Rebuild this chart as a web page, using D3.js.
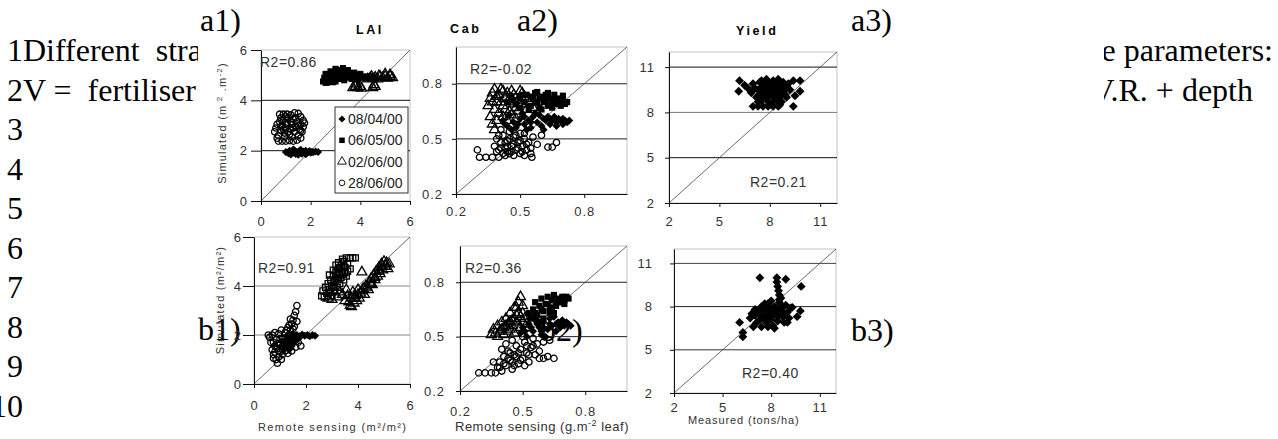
<!DOCTYPE html>
<html><head><meta charset="utf-8">
<script src="https://cdn.jsdelivr.net/npm/d3@7"></script>
<style>body{margin:0;background:#fff}svg{display:block}</style>
</head><body><svg id="c" width="1278" height="439"></svg>
<script>
// ---------- text ----------
const lineNumbers = ["1","2","3","4","5","6","7","8","9","10"];
const lineTexts = ["Different  stra","V =  fertiliser","","","","","","","",""];
const rightTexts = ["e parameters:","V.R. + depth"];
const panelLabels = ["a1)","a2)","a3)","b1)","b2)","b3)"];
const seriesNames = ["08/04/00","06/05/00","02/06/00","28/06/00"];
const panelTitles = ["LAI","Cab","Yield"];
const r2Labels = ["R2=0.86","R2=-0.02","R2=0.21","R2=0.91","R2=0.36","R2=0.40"];

// ---------- ticks ----------
const laiTicks = [0,2,4,6];
const cabTicks = [0.2,0.5,0.8];
const yieldTicks = [2,5,8,11];
const laiGrid = [2,4];
const cabGrid = [0.5,0.8];
const yieldGrid = [5,8,11];

// ---------- a1 LAI ----------
const a1_0804 = [[1.0,1.95],[1.1,1.9],[1.15,2.0],[1.2,1.88],[1.25,1.97],[1.3,1.92],[1.35,2.02],[1.4,1.87],[1.45,1.95],[1.5,1.9],[1.55,2.0],[1.6,1.93],[1.65,1.88],[1.7,1.97],[1.75,1.92],[1.8,2.0],[1.85,1.9],[1.9,1.95],[1.95,1.99],[2.0,1.92],[2.05,1.96],[2.1,1.94],[2.2,1.97],[2.3,1.95],[1.2,1.85],[1.5,1.84],[1.8,1.86],[1.3,2.05],[1.6,2.04]];
const a1_0605 = [[2.5,4.75],[2.55,4.9],[2.6,5.05],[2.65,4.7],[2.7,4.85],[2.75,5.0],[2.8,5.15],[2.85,4.8],[2.9,4.95],[2.95,5.1],[3.0,4.75],[3.05,4.9],[3.1,5.05],[3.15,5.2],[3.2,4.85],[3.25,5.0],[3.3,5.15],[3.35,4.8],[3.4,4.95],[3.45,5.1],[3.5,5.2],[3.55,4.9],[3.6,5.05],[3.65,4.85],[3.7,5.0],[3.75,5.1],[3.8,4.9],[3.85,5.0],[3.9,4.85],[3.95,4.95],[4.0,5.05],[4.05,4.9],[4.1,4.95],[4.2,4.9],[4.3,4.95],[4.4,4.92],[4.5,4.95],[4.6,4.9],[2.6,4.7],[3.0,5.25],[3.3,5.28],[2.9,4.72]];
const a1_0206 = [[3.7,4.5],[3.8,4.55],[3.9,4.5],[4.0,4.55],[4.05,4.48],[4.5,4.5],[4.6,4.55],[4.55,4.62],[3.85,4.65],[4.3,4.85],[4.4,4.9],[4.5,4.88],[4.6,4.92],[4.7,4.85],[4.8,4.95],[4.9,4.9],[5.0,4.95],[5.1,4.88],[5.2,4.95],[5.3,4.9],[5.0,5.05],[5.2,5.02],[4.75,4.98],[4.45,4.95]];
const a1_2806 = [[0.75,3.45],[0.9,3.45],[1.05,3.45],[1.2,3.42],[1.35,3.5],[1.5,3.48],[1.6,3.35],[1.7,3.2],[0.55,2.75],[0.6,2.9],[0.65,3.05],[0.7,2.6],[0.8,2.8],[0.85,3.0],[0.9,3.2],[0.95,2.7],[1.0,2.9],[1.05,3.1],[1.1,3.3],[1.15,2.65],[1.2,2.85],[1.25,3.05],[1.3,3.25],[1.35,2.75],[1.4,2.95],[1.45,3.15],[1.5,2.6],[1.55,2.85],[1.6,3.05],[1.65,2.75],[1.7,2.95],[1.75,3.1],[0.7,2.38],[0.85,2.38],[1.0,2.38],[1.15,2.4],[1.3,2.38],[1.45,2.42],[0.65,2.5],[1.6,2.5],[0.95,2.55],[1.25,2.55],[0.75,3.15],[0.8,2.95],[0.9,2.85],[1.0,3.05],[1.1,2.75],[1.2,3.15],[1.3,2.9],[1.4,3.3],[1.5,3.0],[1.6,2.8],[1.0,3.35],[0.8,3.3]];

// ---------- a2 Cab ----------
const a2_0804 = [[0.42,0.6],[0.44,0.57],[0.45,0.63],[0.47,0.59],[0.48,0.56],[0.5,0.61],[0.51,0.64],[0.52,0.58],[0.54,0.6],[0.55,0.56],[0.56,0.62],[0.58,0.59],[0.59,0.63],[0.6,0.57],[0.62,0.6],[0.63,0.62],[0.64,0.58],[0.65,0.6],[0.66,0.62],[0.67,0.59],[0.68,0.61],[0.69,0.6],[0.7,0.58],[0.71,0.6],[0.72,0.59],[0.73,0.6],[0.46,0.55],[0.53,0.55],[0.61,0.55],[0.57,0.64],[0.43,0.58],[0.49,0.58],[0.55,0.59],[0.61,0.61],[0.67,0.57],[0.7,0.61],[0.64,0.61],[0.52,0.62]];
const a2_0605 = [[0.44,0.7],[0.46,0.73],[0.48,0.69],[0.5,0.72],[0.52,0.7],[0.53,0.74],[0.55,0.68],[0.56,0.72],[0.57,0.75],[0.58,0.7],[0.59,0.67],[0.6,0.73],[0.61,0.7],[0.62,0.74],[0.63,0.68],[0.64,0.72],[0.65,0.7],[0.66,0.74],[0.67,0.69],[0.68,0.72],[0.69,0.7],[0.7,0.71],[0.71,0.69],[0.72,0.7],[0.54,0.66],[0.6,0.66],[0.65,0.67],[0.58,0.755],[0.63,0.75],[0.5,0.67],[0.47,0.71],[0.51,0.74],[0.55,0.73],[0.59,0.72],[0.62,0.71],[0.66,0.71],[0.69,0.68],[0.7,0.735]];
const a2_0206 = [[0.35,0.68],[0.36,0.72],[0.37,0.75],[0.38,0.66],[0.39,0.7],[0.4,0.74],[0.41,0.77],[0.42,0.68],[0.43,0.72],[0.44,0.75],[0.45,0.65],[0.46,0.7],[0.47,0.74],[0.48,0.67],[0.49,0.71],[0.5,0.76],[0.51,0.69],[0.52,0.73],[0.53,0.66],[0.55,0.7],[0.56,0.67],[0.36,0.62],[0.37,0.58],[0.38,0.55],[0.39,0.6],[0.4,0.64],[0.42,0.62],[0.44,0.6],[0.46,0.63],[0.48,0.61],[0.37,0.7],[0.39,0.73],[0.41,0.7],[0.43,0.66],[0.45,0.72],[0.47,0.69],[0.49,0.65],[0.51,0.75],[0.38,0.77],[0.42,0.76],[0.46,0.76],[0.54,0.72]];
const a2_2806 = [[0.3,0.44],[0.31,0.4],[0.34,0.4],[0.37,0.4],[0.4,0.4],[0.43,0.41],[0.555,0.4],[0.63,0.455],[0.65,0.455],[0.67,0.48],[0.6,0.52],[0.38,0.46],[0.39,0.5],[0.4,0.44],[0.41,0.48],[0.42,0.52],[0.43,0.45],[0.44,0.49],[0.45,0.42],[0.46,0.46],[0.47,0.51],[0.48,0.44],[0.49,0.48],[0.5,0.42],[0.51,0.46],[0.52,0.5],[0.53,0.44],[0.54,0.48],[0.55,0.45],[0.56,0.51],[0.45,0.54],[0.41,0.55],[0.5,0.53],[0.58,0.47],[0.47,0.41],[0.52,0.41],[0.44,0.43],[0.42,0.42],[0.39,0.43],[0.41,0.45],[0.43,0.48],[0.45,0.5],[0.47,0.47],[0.49,0.45],[0.51,0.43],[0.53,0.47],[0.55,0.42],[0.4,0.52],[0.44,0.46],[0.48,0.52],[0.52,0.53],[0.46,0.43],[0.5,0.49]];

// ---------- a3 Yield ----------
const a3_yield = [[6.2,10.1],[6.15,9.4],[6.5,9.8],[6.7,9.6],[9.4,10.1],[9.8,10.1],[9.8,9.4],[9.5,9.1],[9.4,8.4],[7.0,8.4],[7.3,8.4],[7.6,8.4],[7.9,8.4],[8.2,8.4],[8.5,8.4],[7.2,9.0],[7.3,9.5],[7.4,10.0],[7.5,8.8],[7.6,9.3],[7.7,9.8],[7.8,10.2],[7.9,8.7],[8.0,9.1],[8.1,9.6],[8.2,10.1],[8.3,8.9],[8.4,9.4],[8.5,9.9],[8.6,9.0],[8.7,9.5],[8.8,10.0],[8.9,9.2],[9.0,9.7],[7.4,9.2],[7.6,8.9],[7.8,9.5],[8.0,9.9],[8.2,9.3],[8.4,8.8],[8.6,9.7],[8.8,9.4],[7.5,10.1],[8.1,8.6],[8.7,8.7],[9.1,9.9],[9.2,9.5],[7.1,9.6],[7.0,9.9],[6.9,9.3],[7.9,9.3],[8.3,9.7],[8.5,10.2],[7.7,9.0],[8.9,9.8],[9.0,9.0],[7.3,8.7],[8.0,8.5],[8.6,8.5],[7.5,9.6],[7.9,9.7],[8.3,9.2],[8.5,9.5],[8.1,9.9],[7.7,9.4],[8.7,9.2],[8.9,9.6]];

// ---------- b1 LAI ----------
const b1_0804 = [[1.65,2.0],[1.75,1.95],[1.85,2.02],[1.95,1.97],[2.05,2.0],[2.15,1.95],[2.25,2.0],[2.35,1.97],[1.1,1.6],[1.2,1.75],[1.25,1.5],[1.3,1.85],[1.35,1.65],[1.4,1.95],[1.45,1.55],[1.5,1.8],[1.55,1.7],[1.6,1.9],[1.15,1.45],[1.35,1.4],[1.5,2.05],[1.7,1.85],[1.25,1.95],[1.05,1.75]];
const b1_0605 = [[2.6,3.6],[2.7,3.55],[2.65,3.8],[2.75,3.95],[2.8,3.7],[2.85,4.1],[2.9,3.85],[2.95,4.25],[3.0,4.0],[3.05,4.4],[3.1,4.15],[3.15,4.55],[3.2,4.3],[3.25,4.7],[3.3,4.45],[3.35,4.85],[3.4,4.6],[3.45,5.0],[3.5,4.75],[3.55,5.15],[3.6,4.9],[3.7,5.15],[3.8,5.15],[3.9,5.15],[3.55,4.4],[3.45,4.25],[3.3,4.1],[3.2,3.95],[3.1,3.8],[3.0,3.6],[3.25,4.95],[3.05,4.65],[2.9,4.45],[3.6,4.6],[3.7,4.7],[2.85,3.6],[3.15,4.85],[3.4,5.1],[2.95,3.75],[3.05,3.95],[3.15,4.25],[3.25,4.3],[3.35,4.35],[3.4,4.5],[3.5,4.55],[3.2,4.6],[3.3,4.75],[3.45,4.8]];
const b1_0206 = [[2.85,3.5],[3.0,3.45],[3.2,3.55],[3.4,3.65],[3.5,3.4],[3.6,3.6],[3.7,3.2],[3.75,3.5],[3.8,3.75],[3.85,3.3],[3.9,3.6],[4.0,3.85],[4.05,3.5],[4.1,3.7],[4.2,3.9],[4.25,3.65],[4.3,4.0],[4.4,3.85],[4.45,4.15],[4.5,4.3],[4.55,4.05],[4.6,4.45],[4.65,4.25],[4.7,4.6],[4.75,4.4],[4.8,4.75],[4.85,4.5],[4.9,4.9],[4.95,4.65],[5.0,5.0],[5.05,4.8],[5.1,4.95],[5.15,4.7],[5.2,4.9],[4.15,4.57],[3.3,3.75],[3.55,3.85],[3.95,3.4],[3.75,3.15],[3.65,3.35],[3.85,3.5],[4.0,3.65],[4.15,3.8],[4.35,3.95],[4.5,4.1],[4.65,4.35],[4.8,4.6],[4.95,4.8]];
const b1_2806 = [[0.9,0.85],[0.85,1.0],[0.75,1.2],[0.95,1.1],[1.05,1.0],[0.7,1.4],[0.8,1.55],[0.65,1.7],[0.6,1.9],[0.55,2.0],[0.7,2.0],[0.85,1.8],[0.9,1.45],[1.0,1.3],[1.1,1.2],[1.0,1.6],[1.1,1.85],[0.95,2.05],[1.2,1.35],[1.3,1.25],[1.2,2.1],[1.3,2.3],[1.4,2.2],[1.45,2.45],[1.5,2.6],[1.55,2.8],[1.6,2.95],[1.65,3.2],[1.55,2.35],[1.65,2.55],[1.4,2.65],[1.45,1.35],[1.6,1.5],[1.7,1.7],[1.8,1.55],[0.8,2.1],[0.75,1.05],[1.35,2.0],[1.25,1.6],[1.05,2.2],[0.8,1.3],[0.9,1.65],[1.0,1.85],[1.15,1.55],[1.25,2.2],[1.35,2.4],[1.5,2.25],[0.75,1.7],[0.95,1.35],[1.1,1.4]];

// ---------- b2 Cab ----------
const b2_0804 = [[0.49,0.52],[0.5,0.55],[0.52,0.5],[0.53,0.57],[0.55,0.53],[0.56,0.59],[0.58,0.55],[0.59,0.51],[0.6,0.58],[0.62,0.54],[0.63,0.6],[0.64,0.56],[0.66,0.53],[0.67,0.58],[0.68,0.55],[0.69,0.59],[0.7,0.56],[0.71,0.58],[0.72,0.57],[0.73,0.56],[0.61,0.5],[0.57,0.61],[0.65,0.61],[0.54,0.55],[0.57,0.57],[0.6,0.55],[0.63,0.57],[0.66,0.57],[0.69,0.57],[0.51,0.53],[0.59,0.53]];
const b2_0605 = [[0.54,0.6],[0.55,0.65],[0.56,0.69],[0.57,0.62],[0.58,0.67],[0.59,0.71],[0.6,0.64],[0.61,0.68],[0.62,0.72],[0.63,0.66],[0.64,0.7],[0.65,0.73],[0.66,0.67],[0.67,0.71],[0.68,0.69],[0.69,0.72],[0.7,0.7],[0.71,0.72],[0.72,0.71],[0.6,0.6],[0.65,0.63],[0.53,0.63],[0.58,0.58],[0.56,0.63],[0.59,0.65],[0.62,0.68],[0.64,0.66],[0.67,0.69],[0.7,0.68],[0.63,0.63]];
const b2_0206 = [[0.35,0.51],[0.36,0.54],[0.37,0.52],[0.38,0.56],[0.39,0.53],[0.4,0.58],[0.41,0.55],[0.42,0.6],[0.43,0.57],[0.44,0.63],[0.45,0.59],[0.46,0.66],[0.47,0.62],[0.48,0.69],[0.49,0.72],[0.5,0.67],[0.5,0.63],[0.51,0.6],[0.52,0.57],[0.53,0.55],[0.47,0.58],[0.44,0.54],[0.41,0.51],[0.38,0.5],[0.46,0.52],[0.49,0.55],[0.4,0.54],[0.42,0.56],[0.43,0.53],[0.45,0.56],[0.46,0.6],[0.48,0.63],[0.47,0.66],[0.49,0.61],[0.5,0.58],[0.44,0.58]];
const b2_2806 = [[0.29,0.3],[0.32,0.3],[0.35,0.3],[0.37,0.3],[0.38,0.33],[0.39,0.36],[0.4,0.31],[0.41,0.39],[0.42,0.34],[0.43,0.42],[0.44,0.37],[0.45,0.32],[0.46,0.4],[0.47,0.45],[0.48,0.35],[0.49,0.43],[0.5,0.38],[0.51,0.47],[0.52,0.41],[0.53,0.36],[0.54,0.44],[0.55,0.49],[0.56,0.4],[0.57,0.46],[0.58,0.42],[0.6,0.38],[0.62,0.39],[0.65,0.38],[0.63,0.48],[0.6,0.47],[0.45,0.48],[0.42,0.46],[0.5,0.5],[0.4,0.43],[0.36,0.36],[0.41,0.35],[0.43,0.38],[0.45,0.36],[0.47,0.39],[0.49,0.37],[0.44,0.41],[0.48,0.41],[0.52,0.45],[0.55,0.45],[0.58,0.38],[0.39,0.33],[0.46,0.34],[0.51,0.34],[0.53,0.4]];

// ---------- b3 Yield ----------
const b3_yield = [[7.3,10.0],[8.35,10.0],[8.35,9.7],[8.9,9.9],[9.85,9.4],[6.05,6.9],[6.25,6.2],[6.25,5.9],[9.3,7.95],[9.8,7.7],[9.6,7.3],[8.4,9.4],[8.45,9.1],[8.5,8.8],[8.5,8.5],[6.7,7.2],[6.9,6.6],[7.0,7.4],[7.1,6.9],[7.2,7.7],[7.3,7.1],[7.4,6.6],[7.5,7.9],[7.6,7.4],[7.7,6.9],[7.8,8.2],[7.9,7.6],[8.0,7.1],[8.1,6.7],[8.2,8.0],[8.3,7.5],[8.4,7.0],[8.5,8.3],[8.6,7.8],[8.7,7.3],[8.8,6.9],[8.9,8.1],[9.0,7.6],[9.1,7.2],[9.2,7.9],[7.4,8.0],[7.6,8.2],[8.0,8.4],[8.2,6.5],[7.8,6.6],[8.6,8.6],[8.8,7.5],[7.0,7.8],[6.8,7.5],[9.0,6.9],[7.3,7.5],[7.5,7.2],[7.7,7.7],[7.9,7.9],[8.1,7.4],[8.3,7.9],[8.5,7.6],[8.7,8.0],[8.1,7.8],[7.9,7.2],[8.4,7.3]];

// ---------- drawing ----------
const SERIF = "'Liberation Serif','Times New Roman',serif";
const SANS = "'Liberation Sans',Arial,sans-serif";
const svg = d3.select('#c');
svg.append('rect').attr('width',1278).attr('height',439).attr('fill','#fff');

lineNumbers.forEach((n,i) => {
  const yb = 61 + i*39.5;
  svg.append('text').attr('x',23).attr('y',yb).attr('text-anchor','end')
    .attr('font-family',SERIF).attr('font-size',32).text(n);
  if (lineTexts[i]) svg.append('text').attr('x',23).attr('y',yb).style('white-space','pre')
    .attr('font-family',SERIF).attr('font-size',32).text(lineTexts[i]);
});
const rightEnds = [1273,1253];
rightTexts.forEach((t,i) => {
  svg.append('text').attr('x',rightEnds[i]).attr('y',61 + i*39.5).attr('text-anchor','end')
    .style('white-space','pre').attr('font-family',SERIF).attr('font-size',32).text(t);
});
svg.append('rect').attr('x',198).attr('y',0).attr('width',906).attr('height',439).attr('fill','#fff');

const labelPos = [[200,31],[517,31],[851,31],[198,340],[540,341],[851,341]];
panelLabels.forEach((t,i) => svg.append('text').attr('x',labelPos[i][0]).attr('y',labelPos[i][1])
  .attr('font-family',SERIF).attr('font-size',32).text(t));

const titlePos = [[356,34],[450,33],[736,35]];
panelTitles.forEach((t,i) => svg.append('text').attr('x',titlePos[i][0]).attr('y',titlePos[i][1])
  .attr('font-family',SANS).attr('font-size',12.5).attr('font-weight','bold').attr('letter-spacing',2.6).text(t));

const symDiamond = d3.symbolDiamond2 || d3.symbolDiamond;
const styles = {
  d:{type:symDiamond,size:40,fill:'#000',stroke:'none',sw:0},
  s:{type:d3.symbolSquare,size:38,fill:'#000',stroke:'none',sw:0},
  sh:{type:d3.symbolSquare,size:36,fill:'none',stroke:'#000',sw:1.3},
  t:{type:d3.symbolTriangle,size:42,fill:'none',stroke:'#000',sw:1.3},
  c:{type:d3.symbolCircle,size:32,fill:'none',stroke:'#000',sw:1.3},
  dy:{type:symDiamond,size:50,fill:'#000',stroke:'none',sw:0}
};

function panel(cfg){
  const x = d3.scaleLinear().domain(cfg.xd).range([cfg.l,cfg.r]);
  const y = d3.scaleLinear().domain(cfg.yd).range([cfg.b,cfg.t]);
  const g = svg.append('g');
  g.append('rect').attr('x',cfg.l).attr('y',cfg.t).attr('width',cfg.r-cfg.l).attr('height',cfg.b-cfg.t)
    .attr('fill','none').attr('stroke','#c4c4c4');
  cfg.grid.forEach((v,i) => g.append('line').attr('x1',cfg.l).attr('x2',cfg.r).attr('y1',y(v)).attr('y2',y(v))
    .attr('stroke',cfg.gridColor[i]).attr('stroke-width',1));
  g.append('line').attr('x1',x(cfg.xd[0])).attr('y1',y(cfg.yd[0])).attr('x2',x(cfg.xd[1])).attr('y2',y(cfg.yd[1]))
    .attr('stroke','#444').attr('stroke-width',0.8);
  const ya = g.append('g').attr('transform',`translate(${cfg.l},0)`)
    .call(d3.axisLeft(y).tickValues(cfg.yt).tickSize(cfg.ytick).tickSizeOuter(0).tickPadding(cfg.ypad).tickFormat(cfg.fmt));
  const xa = g.append('g').attr('transform',`translate(0,${cfg.b})`)
    .call(d3.axisBottom(x).tickValues(cfg.xt).tickSize(4).tickSizeOuter(0).tickFormat(cfg.fmt));
  [ya,xa].forEach(a => {
    a.select('.domain').attr('stroke','#111');
    a.selectAll('.tick line').attr('stroke','#111');
    a.selectAll('text').attr('font-family',SANS).attr('font-size',13).attr('fill','#333').attr('letter-spacing',1);
  });
  xa.selectAll('text').attr('y',cfg.xlab - cfg.b).attr('dy',0);
  cfg.series.forEach(sr => {
    const st = styles[sr.style];
    const sym = d3.symbol().type(st.type).size(st.size);
    g.append('g').selectAll('path').data(sr.data).join('path')
      .attr('d',sym).attr('transform',d => `translate(${x(d[0])},${y(d[1])})`)
      .attr('fill',st.fill).attr('stroke',st.stroke).attr('stroke-width',st.sw);
  });
  g.append('text').attr('x',cfg.r2[0]).attr('y',cfg.r2[1]).attr('font-family',SANS).attr('font-size',14)
    .attr('letter-spacing',0.5).attr('fill','#333').text(cfg.r2t);
  return {g,x,y};
}
const f0 = d3.format('d'), f1 = d3.format('.1f');

panel({l:261,t:50,r:410,b:201,xd:[0,6],yd:[0,6],xt:laiTicks,yt:laiTicks,grid:laiGrid,gridColor:['#111','#111'],
  ytick:10,ypad:3,xlab:226,fmt:f0,r2:[260,67],r2t:r2Labels[0],
  series:[{data:a1_2806,style:'c'},{data:a1_0804,style:'d'},{data:a1_0605,style:'s'},{data:a1_0206,style:'t'}]});
panel({l:456,t:47,r:627,b:194,xd:[0.2,1.0],yd:[0.2,1.0],xt:cabTicks,yt:cabTicks,grid:cabGrid,gridColor:['#222','#222'],
  ytick:4,ypad:9,xlab:216,fmt:f1,r2:[470,74],r2t:r2Labels[1],
  series:[{data:a2_2806,style:'c'},{data:a2_0804,style:'d'},{data:a2_0605,style:'s'},{data:a2_0206,style:'t'}]});
panel({l:669,t:52,r:837,b:203,xd:[2,12],yd:[2,12],xt:yieldTicks,yt:yieldTicks,grid:yieldGrid,gridColor:['#111','#777','#111'],
  ytick:4,ypad:10,xlab:226,fmt:f0,r2:[750,187],r2t:r2Labels[2],
  series:[{data:a3_yield,style:'dy'}]});
panel({l:254,t:237,r:410,b:384,xd:[0,6],yd:[0,6],xt:laiTicks,yt:laiTicks,grid:laiGrid,gridColor:['#888','#888'],
  ytick:11,ypad:1,xlab:410,fmt:f0,r2:[258,273],r2t:r2Labels[3],
  series:[{data:b1_2806,style:'c'},{data:b1_0804,style:'d'},{data:b1_0605,style:'sh'},{data:b1_0206,style:'t'}]});
panel({l:460,t:246,r:627,b:391,xd:[0.2,1.0],yd:[0.2,1.0],xt:cabTicks,yt:cabTicks,grid:cabGrid,gridColor:['#222','#222'],
  ytick:4,ypad:11,xlab:416,fmt:f1,r2:[465,273],r2t:r2Labels[4],
  series:[{data:b2_2806,style:'c'},{data:b2_0804,style:'d'},{data:b2_0605,style:'s'},{data:b2_0206,style:'t'}]});
panel({l:674,t:249,r:836,b:393,xd:[2,12],yd:[2,12],xt:yieldTicks,yt:yieldTicks,grid:yieldGrid,gridColor:['#333','#222','#444'],
  ytick:4,ypad:17,xlab:412,fmt:f0,r2:[742,378],r2t:r2Labels[5],
  series:[{data:b3_yield,style:'dy'}]});

// legend (a1)
const lg = svg.append('g');
lg.append('rect').attr('x',335).attr('y',107).attr('width',73).attr('height',86).attr('fill','#fff').attr('stroke','#333');
const legStyles = ['d','s','t','c'];
seriesNames.forEach((n,i) => {
  const cy = 119 + i*21.3;
  const st = styles[legStyles[i]];
  lg.append('path').attr('d',d3.symbol().type(st.type).size(st.size*0.8)).attr('transform',`translate(342,${cy})`)
    .attr('fill',st.fill).attr('stroke',st.stroke).attr('stroke-width',st.sw ? 0.9 : 0);
  lg.append('text').attr('x',348).attr('y',cy+5).attr('font-family',SANS).attr('font-size',14).attr('fill','#222').text(n);
});

// axis titles
function yTitle(cx,cy,parts,ls){
  const t = svg.append('text').attr('transform',`translate(${cx},${cy}) rotate(-90)`).attr('text-anchor','middle')
    .attr('font-family',SANS).attr('font-size',11).attr('fill','#333').attr('letter-spacing',ls);
  parts.forEach(p => { const s = t.append('tspan').text(p[0]); if (p[1]) s.attr('baseline-shift','super').attr('font-size',8); });
}
yTitle(226,123,[["Simulated (m"],[" 2",1],[" .m"],["-2",1],[")"]],1.2);
yTitle(224,300,[["Simulated (m²/m²)"]],1.2);
svg.append('text').attr('x',258).attr('y',431).attr('font-family',SANS).attr('font-size',11).attr('letter-spacing',1.4)
  .attr('fill','#333').text('Remote sensing (m²/m²)');
const t2 = svg.append('text').attr('x',455).attr('y',431).attr('font-family',SANS).attr('font-size',13).attr('letter-spacing',0.5).attr('fill','#333');
t2.append('tspan').text('Remote sensing (g.m');
t2.append('tspan').attr('baseline-shift','super').attr('font-size',9).text('-2');
t2.append('tspan').text(' leaf)');
svg.append('text').attr('x',688).attr('y',424).attr('font-family',SANS).attr('font-size',11).attr('letter-spacing',0.9)
  .attr('fill','#333').text('Measured (tons/ha)');
</script></body></html>
